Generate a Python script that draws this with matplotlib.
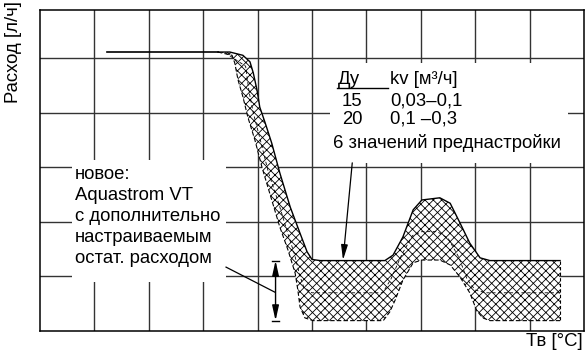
import matplotlib.pyplot as plt
from matplotlib.patches import Rectangle

plt.rcParams['font.family'] = ['Liberation Sans', 'DejaVu Sans']
plt.rcParams['hatch.color'] = 'black'
plt.rcParams['hatch.linewidth'] = 0.6

# flow curve band (grid units); upper edge = max, lower edge = min
upper_x = [3.27, 3.49, 3.73, 3.86, 3.92, 3.99, 4.04, 4.14, 4.26, 4.41, 4.60, 4.78, 4.91, 5.00, 5.15,
           6.34, 6.49, 6.67, 6.86, 7.02, 7.35, 7.54, 7.72, 7.90, 8.09, 8.27, 9.56]
upper_y = [5.11, 5.11, 5.05, 4.93, 4.73, 4.41, 4.10, 3.81, 3.44, 2.89, 2.27, 1.79, 1.45, 1.31, 1.29,
           1.29, 1.39, 1.72, 2.22, 2.40, 2.44, 2.34, 1.98, 1.61, 1.34, 1.29, 1.29]
lower_x = [3.27, 3.53, 3.58, 3.64, 3.73, 3.82, 3.95, 4.08, 4.26, 4.41, 4.56, 4.69, 4.74, 4.78, 4.87,
           5.02, 6.31, 6.43, 6.53, 6.67, 6.86, 7.02, 7.35, 7.54, 7.72, 7.90, 8.03, 8.14, 8.27, 9.56]
lower_y = [5.11, 5.05, 4.91, 4.60, 4.29, 3.92, 3.50, 3.00, 2.40, 1.90, 1.48, 1.06, 0.75, 0.44, 0.24,
           0.19, 0.19, 0.35, 0.57, 0.93, 1.25, 1.30, 1.30, 1.21, 0.99, 0.70, 0.37, 0.24, 0.19, 0.19]
mid_x = [3.40, 3.78, 3.84, 3.92, 4.05, 4.20, 4.40, 4.55, 4.68, 4.78, 4.85, 5.00, 6.30, 6.45, 6.65,
         6.85, 7.02, 7.30, 7.50, 7.70, 7.85, 8.00, 8.20, 9.56]
mid_y = [5.10, 4.85, 4.40, 4.00, 3.50, 2.90, 2.30, 1.80, 1.40, 1.00, 0.80, 0.70, 0.70, 0.95, 1.40,
         1.75, 1.82, 1.82, 1.70, 1.35, 0.95, 0.75, 0.70, 0.70]

# flat full-flow line before the valve starts closing
flat_x = [1.23, 3.27]
flat_y = [5.11, 5.11]

# residual flow range marker
resid_x = 4.33
resid_lo, resid_hi = 0.19, 1.29

table_rows = [('15', '0,03–0,1'), ('20', '0,1 –0,3')]
note_lines = ['новое:', 'Aquastrom VT', 'с дополнительно', 'настраиваемым', 'остат. расходом']

fs = 13.3
fig = plt.figure(figsize=(5.85, 3.54), dpi=100)
ax = fig.add_axes([40 / 585, 23 / 354, 544 / 585, 321 / 354])
ax.set_xlim(0, 10)
ax.set_ylim(0, 5.88)
ax.set_xticks([])
ax.set_yticks([])
for s in ax.spines.values():
    s.set_linewidth(1.1)

for gx in range(1, 10):
    ax.axvline(gx, color='#333333', lw=1.0, zorder=1)
for gy in range(1, 6):
    ax.axhline(gy, color='#333333', lw=1.0, zorder=1)

# band with cross hatching
band_x = upper_x + lower_x[::-1]
band_y = upper_y + lower_y[::-1]
ax.fill(band_x, band_y, facecolor='white', edgecolor='black', hatch='xxxx', lw=0, zorder=2)
ax.plot(upper_x, upper_y, color='black', lw=1.0, zorder=3)
ax.plot(lower_x, lower_y, color='black', lw=0.8, ls=(0, (4, 2)), zorder=3)
ax.plot(mid_x, mid_y, color='black', lw=0.6, ls=(0, (4, 3)), zorder=3)
ax.plot([upper_x[-1], lower_x[-1]], [upper_y[-1], lower_y[-1]], color='black', lw=0.8,
        ls=(0, (3, 2)), zorder=3)
ax.plot(flat_x, flat_y, color='black', lw=1.2, zorder=3)

# white panels behind the texts
ax.add_patch(Rectangle((5.33, 3.08), 4.38, 1.83, facecolor='white', edgecolor='none', zorder=4))
ax.add_patch(Rectangle((0.59, 0.90), 2.83, 2.23, facecolor='white', edgecolor='none', zorder=4))

# presetting table
ax.text(5.48, 4.60, 'Ду', fontsize=fs, va='center', zorder=5)
ax.text(6.43, 4.60, 'kv [м³/ч]', fontsize=fs, va='center', zorder=5)
ax.plot([5.46, 6.40], [4.45, 4.45], color='black', lw=1.0, zorder=5)
for i, (dn, kv) in enumerate(table_rows):
    yy = 4.21 - i * 0.33
    ax.text(5.55, yy, dn, fontsize=fs, va='center', zorder=5)
    ax.text(6.43, yy, kv, fontsize=fs, va='center', zorder=5)
ax.text(5.39, 3.44, '6 значений преднастройки', fontsize=fs, va='center', zorder=5)
ax.annotate('', xy=(5.57, 1.30), xytext=(5.74, 3.08),
            arrowprops=dict(arrowstyle='-|>,head_length=0.9,head_width=0.2', color='black',
                            lw=0.9, shrinkA=0, shrinkB=0, mutation_scale=10), zorder=5)

# note on the left
for i, line in enumerate(note_lines):
    ax.text(0.64, 2.87 - i * 0.385, line, fontsize=fs, va='center', zorder=5)
ax.plot([3.42, 4.32], [1.17, 0.71], color='black', lw=0.9, zorder=5)

# residual flow dimension arrow
ax.annotate('', xy=(resid_x, resid_hi), xytext=(resid_x, resid_lo),
            arrowprops=dict(arrowstyle='<|-|>,head_length=0.9,head_width=0.2', color='black',
                            lw=1.0, shrinkA=0, shrinkB=0, mutation_scale=10), zorder=5)
for yy in (resid_lo, resid_hi):
    ax.plot([resid_x - 0.07, resid_x + 0.07], [yy, yy], color='black', lw=1.0, zorder=5)

fig.text(14 / 585, 1 - 52 / 354, 'Расход [л/ч]', rotation=90, fontsize=fs, ha='center', va='center')
fig.text(583 / 585, 1 - 342 / 354, 'Тв [°C]', fontsize=fs, ha='right', va='center')

fig.savefig('out.png', dpi=100)
